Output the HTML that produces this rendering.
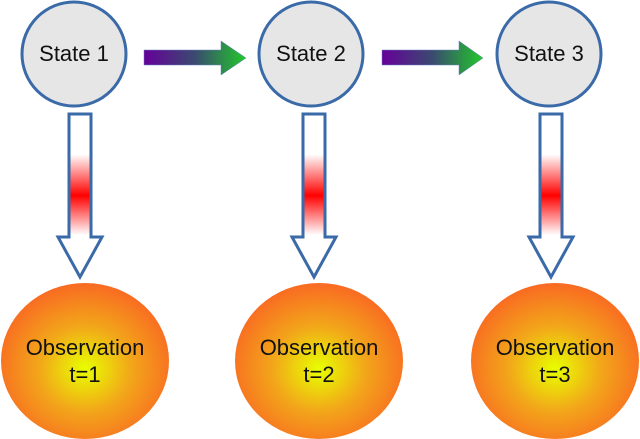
<!DOCTYPE html>
<html><head><style>html,body{margin:0;padding:0;background:#fff;}svg{display:block}</style></head>
<body>
<svg width="640" height="439" viewBox="0 0 640 439" xmlns="http://www.w3.org/2000/svg" font-family="Liberation Sans, sans-serif">
<defs>
<linearGradient id="h" x1="0" x2="1" y1="0" y2="0">
<stop offset="0" stop-color="#66009a"/><stop offset="0.5" stop-color="#3a4a70"/><stop offset="1" stop-color="#22c82a"/></linearGradient>
<linearGradient id="v" x1="0" x2="0" y1="113" y2="278" gradientUnits="userSpaceOnUse">
<stop offset="0" stop-color="#fff"/><stop offset="0.25" stop-color="#fff"/><stop offset="0.5" stop-color="#f00"/><stop offset="0.74" stop-color="#fff"/><stop offset="1" stop-color="#fff"/></linearGradient>
<radialGradient id="o" cx="0.5" cy="0.55" r="0.55">
<stop offset="0" stop-color="#e8ff00"/><stop offset="0.5" stop-color="#f2a61a"/><stop offset="1" stop-color="#f96a22"/></radialGradient>
</defs>
<g stroke="#3a6aa8" stroke-width="3" fill="#e6e6e6">
<circle cx="74" cy="54" r="52"/><circle cx="311" cy="54" r="52"/><circle cx="549" cy="54" r="52"/>
</g>
<g font-size="22" text-anchor="middle" fill="#111">
<text x="74" y="61">State 1</text><text x="311" y="61">State 2</text><text x="549" y="61">State 3</text>
</g>
<g fill="url(#h)" stroke="#6a80c0" stroke-width="0.5">
<path d="M144,50 H221 V41 L246,58 L221,75 V65 H144 Z"/>
<path d="M382,50 H459 V41 L483,58 L459,75 V65 H382 Z"/>
</g>
<g fill="url(#v)" stroke="#3a6aa8" stroke-width="3" stroke-linejoin="miter">
<path d="M69,114 H91 V237 H102 L80,277 L58,237 H69 Z"/>
<path d="M303,114 H325 V237 H336 L314,277 L292,237 H303 Z"/>
<path d="M540,114 H562 V237 H573 L551,277 L529,237 H540 Z"/>
</g>
<g fill="url(#o)">
<ellipse cx="85" cy="361" rx="84" ry="78"/><ellipse cx="319" cy="361" rx="84" ry="78"/><ellipse cx="555" cy="361" rx="84" ry="78"/>
</g>
<g font-size="22" text-anchor="middle" fill="#111">
<text x="85" y="355">Observation</text><text x="85" y="382">t=1</text>
<text x="319" y="355">Observation</text><text x="319" y="382">t=2</text>
<text x="555" y="355">Observation</text><text x="555" y="382">t=3</text>
</g>
</svg>
</body></html>
